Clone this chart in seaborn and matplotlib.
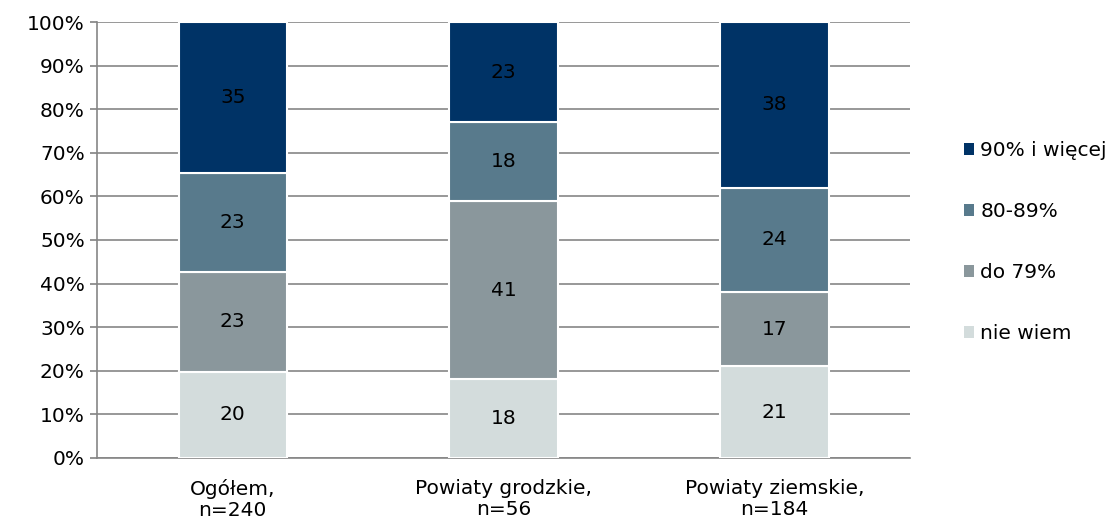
import matplotlib.pyplot as plt
import seaborn as sns
import numpy as np
import pandas as pd

sns.set_theme(style="white")
plt.rcParams['font.family'] = ['DejaVu Sans']

categories = ["Ogółem,\nn=240", "Powiaty grodzkie,\nn=56", "Powiaty ziemskie,\nn=184"]
series = ["nie wiem", "do 79%", "80-89%", "90% i więcej"]
nie_wiem = [20, 18, 21]
do_79 = [23, 41, 17]
od_80_89 = [23, 18, 24]
od_90 = [35, 23, 38]
colors = ["#d3dcdc", "#8a979c", "#587a8c", "#003366"]

vals = np.array([nie_wiem, do_79, od_80_89, od_90], dtype=float)
shares = vals / vals.sum(axis=0) * 100

fs = 14.5
fig, ax = plt.subplots(figsize=(11.19, 5.28), dpi=100)
fig.subplots_adjust(left=0.087, right=0.813, top=0.958, bottom=0.133)

bottom = np.zeros(3)
for i, name in enumerate(series):
    df = pd.DataFrame({"cat": categories, "val": shares[i]})
    sns.barplot(data=df, x="cat", y="val", ax=ax, color=colors[i], width=0.4,
                bottom=bottom, edgecolor="white", linewidth=1.5, label=name,
                zorder=3, saturation=1)
    for j in range(3):
        ax.text(j, bottom[j] + shares[i][j] / 2, f"{int(vals[i][j])}",
                ha="center", va="center", fontsize=fs, color="black", zorder=4)
    bottom = bottom + shares[i]

ax.set_xlim(-0.5, 2.5)
ax.set_ylim(0, 100)
ax.set_yticks(range(0, 101, 10))
ax.set_yticklabels([f"{v}%" for v in range(0, 101, 10)], fontsize=fs, color="black")
ax.set_xticks(range(3))
ax.set_xticklabels(categories, fontsize=fs, color="black", linespacing=1.15)
ax.set_xticks([-0.5, 0.5, 1.5, 2.5], minor=True)
ax.tick_params(axis="x", which="major", length=0, pad=15)
ax.tick_params(axis="x", which="minor", length=5, color="#868686", direction="out")
ax.tick_params(axis="y", length=5, color="#868686", direction="out", left=True, pad=4)
ax.set_xlabel("")
ax.set_ylabel("")
ax.yaxis.grid(True, color="#868686", linewidth=1.2, zorder=0)
ax.set_axisbelow(True)
for s in ["top", "right"]:
    ax.spines[s].set_visible(False)
for s in ["left", "bottom"]:
    ax.spines[s].set_color("#868686")
    ax.spines[s].set_linewidth(1.2)

handles, labels = ax.get_legend_handles_labels()
leg = ax.legend(handles[::-1], labels[::-1], loc="center left", bbox_to_anchor=(1.067, 0.495),
                frameon=False, fontsize=fs, handlelength=0.5, handleheight=0.5,
                handletextpad=0.3, labelspacing=2.08, borderaxespad=0, borderpad=0,
                labelcolor="black")
for h in leg.legend_handles:
    h.set_edgecolor("none")

fig.savefig("out.png", dpi=100)
